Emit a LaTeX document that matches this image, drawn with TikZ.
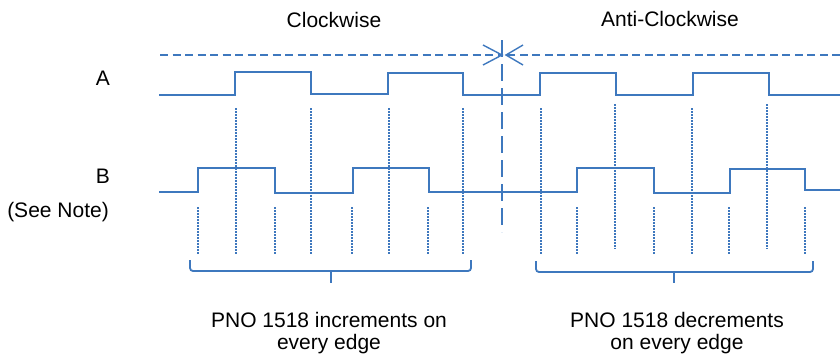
\documentclass[tikz,border=0pt]{standalone}
\usepackage{fontspec}
\setmainfont{Liberation Sans}
\definecolor{wave}{RGB}{62,120,190}
\begin{document}
\begin{tikzpicture}[x=1pt,y=-1pt,
  sig/.style={draw=wave,line width=1.8pt},
  hdashline/.style={draw=wave,line width=1.5pt,dash pattern=on 8pt off 4.5pt},
  vdashline/.style={draw=wave,line width=1.6pt,dash pattern=on 17pt off 7pt},
  dotline/.style={draw=wave,line width=1.6pt,dash pattern=on 1.5pt off 1.5pt},
  barb/.style={draw=wave,line width=1.4pt},
  brace/.style={draw=wave,line width=1.8pt,rounded corners=3pt},
  lbl/.style={font=\fontsize{21}{21.5}\selectfont,inner sep=0pt,align=center}]
\useasboundingbox (0,0) rectangle (840,359);
% titles
\node[lbl] (cw) at (334,20) {Clockwise};
\node[lbl] (acw) at (670,19) {Anti-Clockwise};
\node[lbl] (la) at (103,78) {A};
\node[lbl] (lb) at (103,176) {B};
\node[lbl,anchor=east] (note) at (109,212) {(See Note)};
\node[lbl] (inc) at (329,333) {PNO 1518 increments on\\every edge};
\node[lbl] (dec) at (677,333) {PNO 1518 decrements\\on every edge};
% direction arrows
\draw[hdashline] (160,55) -- (501,55);
\draw[barb] (483,45) -- (502,55) -- (483,65);
\draw[hdashline] (840,55) -- (507,55);
\draw[barb] (523,45) -- (506,55) -- (523,65);
\draw[vdashline] (502,40) -- (502,232);
% signal A
\draw[sig] (159,95) -- (235,95) -- (235,72) -- (311,72) -- (311,94) -- (388,94) -- (388,73)
  -- (463,73) -- (463,95) -- (540,95) -- (540,73) -- (616,73) -- (616,95) -- (693,95)
  -- (693,73) -- (769,73) -- (769,95) -- (840,95);
% signal B
\draw[sig] (159,192) -- (198,192) -- (198,168) -- (275,168) -- (275,193) -- (353,193)
  -- (353,168) -- (429,168) -- (429,192) -- (577,192) -- (577,168) -- (654,168)
  -- (654,193) -- (730,193) -- (730,169) -- (805,169) -- (805,190) -- (840,190);
% dotted edge markers
\foreach \x in {236,311,389,463,541,692} \draw[dotline] (\x,108) -- (\x,254);
\foreach \x in {615,767} \draw[dotline] (\x,104) -- (\x,249);
\foreach \x in {198,275,352,428,577,654,729,805} \draw[dotline] (\x,207) -- (\x,254);
% braces
\draw[brace] (190,260) -- (190,271) -- (471,271) -- (471,260);
\draw[draw=wave,line width=1.8pt] (331,271) -- (331,283);
\draw[brace] (536,261) -- (536,272) -- (813,272) -- (813,261);
\draw[draw=wave,line width=1.8pt] (674,272) -- (674,283);
\end{tikzpicture}
\end{document}
